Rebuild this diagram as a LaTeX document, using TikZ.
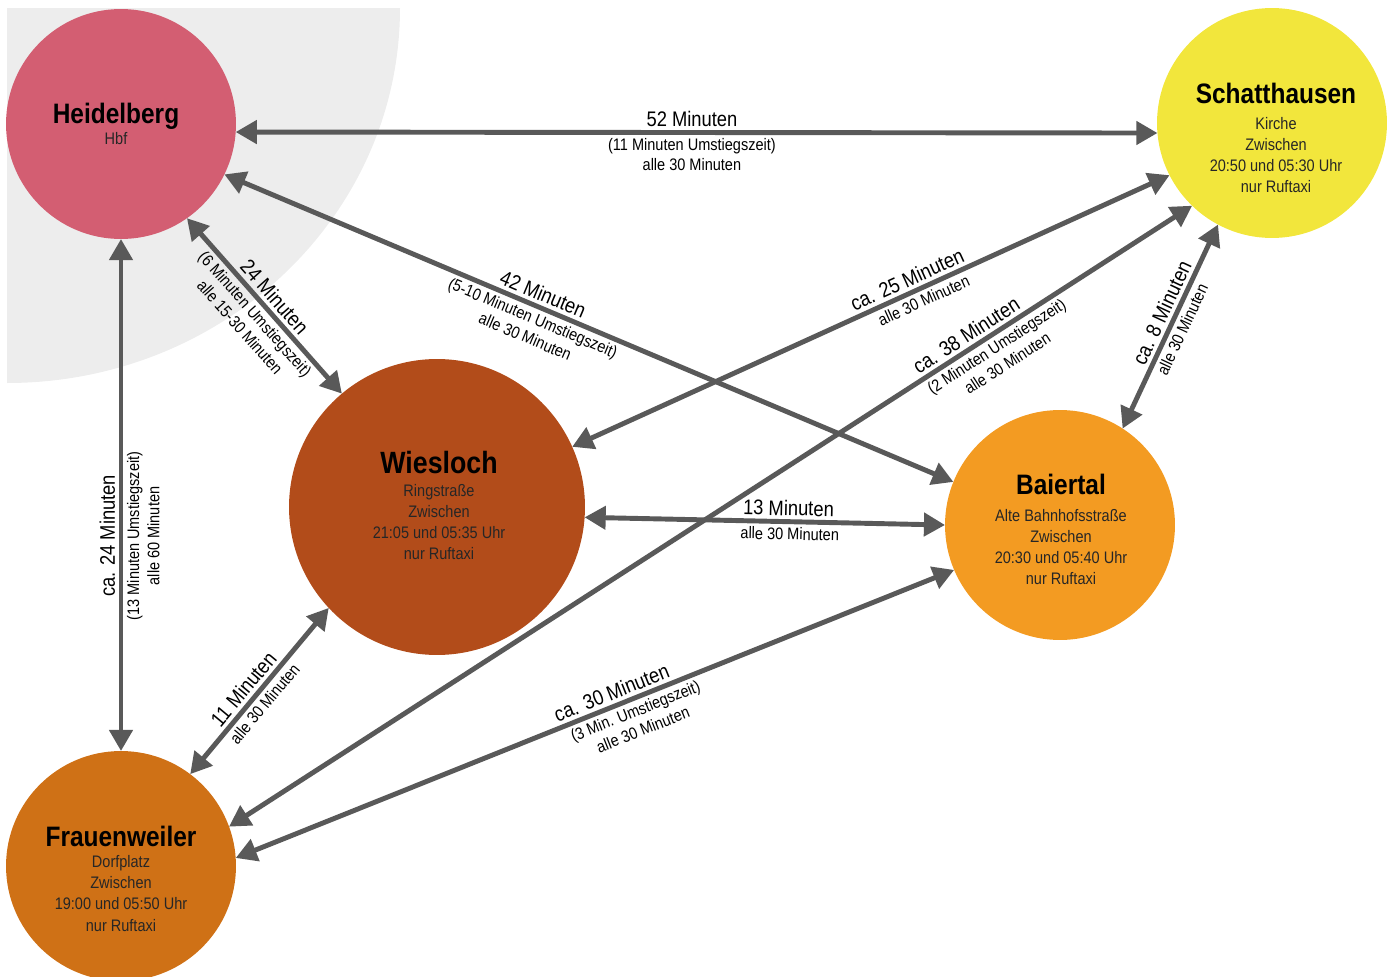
\documentclass[tikz,border=0pt]{standalone}
\usepackage{fontspec}
\setmainfont{Liberation Sans}[FakeStretch=0.87]
\usetikzlibrary{arrows.meta}

\definecolor{heidred}{HTML}{D35E72}
\definecolor{schattyellow}{HTML}{F2E63C}
\definecolor{wiesbrown}{HTML}{B24C1A}
\definecolor{baiorange}{HTML}{F39B22}
\definecolor{frauorange}{HTML}{CF7116}
\definecolor{arrowgray}{HTML}{595959}
\definecolor{bggray}{HTML}{EDEDED}

\begin{document}
\begin{tikzpicture}[x = 0.02cm, y = -0.02cm,
                    ort/.style = {circle, inner sep = 0pt, outer sep = 0pt},
                    ortinfo/.style = {anchor = north, inner sep = 0pt, align = center,
                                      text = black!85, font = \fontsize{9.5}{12}\selectfont},
                    link/.style = {<->, >={Triangle[length = 12pt, width = 13pt]},
                                   draw = arrowgray, line width = 2.8pt},
                    zeit/.style = {sloped, inner sep = 2pt, font = \fontsize{12}{14}\selectfont},
                    info/.style = {sloped, inner sep = 2pt, align = center,
                                   font = \fontsize{9.5}{11.5}\selectfont}]

\useasboundingbox (0,0) rectangle (1394,977);

% grey area behind Heidelberg
\fill[bggray] (7,8) -- (400,8) arc[start angle = 0, end angle = 90, x radius = 393, y radius = 375] -- cycle;

% stops
\node [ort, fill = heidred, minimum size = 4.6cm] (heid) at (121,124) {};
\node [ort, fill = schattyellow, minimum size = 4.6cm] (schatt) at (1272,123) {};
\node [ort, fill = wiesbrown, minimum size = 5.92cm] (wies) at (437,507) {};
\node [ort, fill = baiorange, minimum size = 4.6cm] (bai) at (1060,525) {};
\node [ort, fill = frauorange, minimum size = 4.6cm] (frau) at (121,866) {};

% stop texts
\node [ortinfo] (heidtext) at (116,103) {{\fontsize{16}{18}\selectfont\bfseries\color{black}Heidelberg}\\Hbf};
\node [ortinfo] (schatttext) at (1276,83) {{\fontsize{16}{18}\selectfont\bfseries\color{black}Schatthausen}\\[2.5pt]Kirche\\Zwischen\\20:50 und 05:30 Uhr\\nur Ruftaxi};
\node [ortinfo] (wiestext) at (439,451) {{\fontsize{17.5}{19}\selectfont\bfseries\color{black}Wiesloch}\\[1pt]Ringstraße\\Zwischen\\21:05 und 05:35 Uhr\\nur Ruftaxi};
\node [ortinfo] (baitext) at (1061,474) {{\fontsize{16}{18}\selectfont\bfseries\color{black}Baiertal}\\[3pt]Alte Bahnhofsstraße\\Zwischen\\20:30 und 05:40 Uhr\\nur Ruftaxi};
\node [ortinfo] (frautext) at (121,826) {{\fontsize{16}{18}\selectfont\bfseries\color{black}Frauenweiler}\\Dorfplatz\\Zwischen\\19:00 und 05:50 Uhr\\nur Ruftaxi};

% connections
\draw[link] (heid.-4) -- (schatt.185)
    node[zeit, above, pos = 0.495] {52 Minuten}
    node[info, below, pos = 0.495] {(11 Minuten Umstiegszeit)\\alle 30 Minuten};

\draw[link] (heid.-55) -- (wies.130)
    node[zeit, above, pos = 0.5] {24 Minuten}
    node[info, below, pos = 0.5] {(6 Minuten Umstiegszeit)\\alle 15-30 Minuten};

\draw[link] (heid.-26) -- (bai.158)
    node[zeit, above, pos = 0.43] {42 Minuten}
    node[info, below, pos = 0.43] {(5-10 Minuten Umstiegszeit)\\alle 30 Minuten};

\draw[link] (frau.90) -- (heid.-90)
    node[zeit, above, pos = 0.42] {ca. 24 Minuten}
    node[info, below, pos = 0.42] {(13 Minuten Umstiegszeit)\\alle 60 Minuten};

\draw[link] (wies.24) -- (schatt.207)
    node[zeit, above, pos = 0.57] {ca. 25 Minuten}
    node[info, below, pos = 0.58] {alle 30 Minuten};

\draw[link] (frau.20) -- (schatt.226)
    node[zeit, above, pos = 0.773] {ca. 38 Minuten}
    node[info, below, pos = 0.79] {(2 Minuten Umstiegszeit)\\alle 30 Minuten};

\draw[link] (bai.57) -- (schatt.242)
    node[zeit, above, pos = 0.54] {ca. 8 Minuten}
    node[info, below, pos = 0.51] {alle 30 Minuten};

\draw[link] (wies.-4) -- (bai.180)
    node[zeit, above, pos = 0.565] {13 Minuten}
    node[info, below, pos = 0.57] {alle 30 Minuten};

\draw[link] (frau.53) -- (wies.223)
    node[zeit, above, pos = 0.46] {11 Minuten}
    node[info, below, pos = 0.47] {alle 30 Minuten};

\draw[link] (frau.4) -- (bai.203)
    node[zeit, above, pos = 0.53] {ca. 30 Minuten}
    node[info, below, pos = 0.55] {(3 Min. Umstiegszeit)\\alle 30 Minuten};
\end{tikzpicture}
\end{document}
